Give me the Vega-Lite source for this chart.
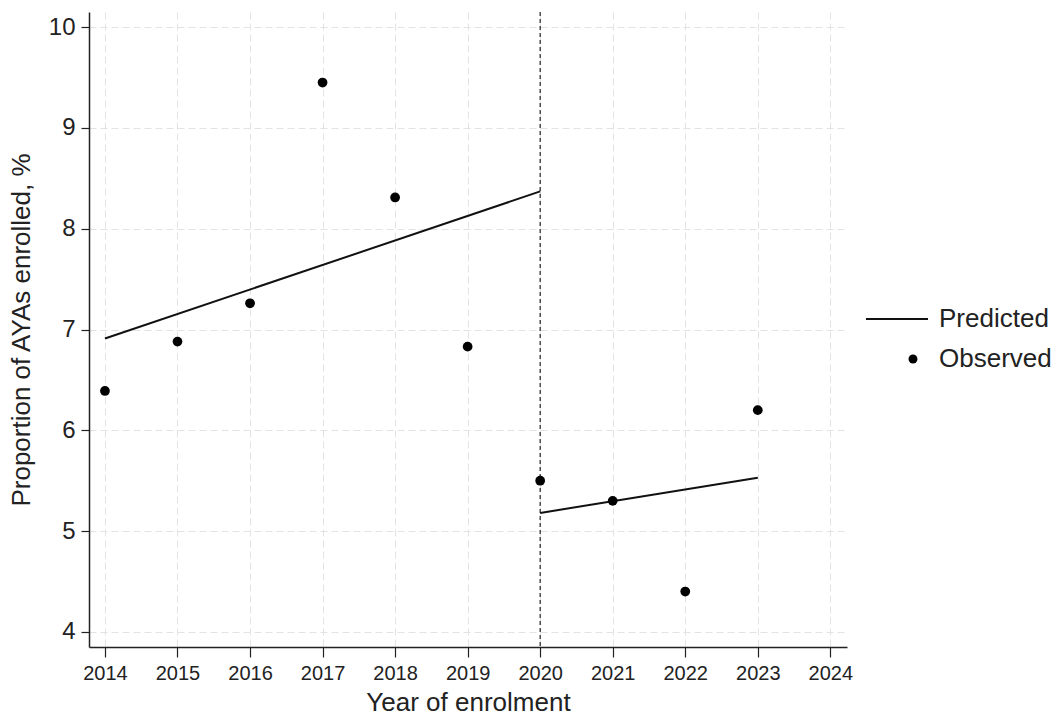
{
  "$schema": "https://vega.github.io/schema/vega-lite/v6.json",
  "width": 758,
  "height": 635,
  "autosize": {"type": "none"},
  "padding": {"left": 89, "top": 12, "right": 213, "bottom": 72},
  "background": "white",
  "config": {
    "font": "Liberation Sans",
    "view": {"stroke": null},
    "axis": {
      "domainColor": "#222222",
      "domainWidth": 1.5,
      "tickColor": "#222222",
      "tickWidth": 1.2,
      "labelColor": "#222222",
      "titleColor": "#222222",
      "titleFontWeight": "normal",
      "gridColor": "#e3e3e3",
      "gridDash": [7, 4],
      "gridWidth": 1
    },
    "legend": {
      "labelFont": "Liberation Sans",
      "labelColor": "#222222",
      "labelFontSize": 26
    }
  },
  "datasets": {
    "observed": [
      {"year": 2014, "value": 6.39, "series": "Observed"},
      {"year": 2015, "value": 6.88, "series": "Observed"},
      {"year": 2016, "value": 7.26, "series": "Observed"},
      {"year": 2017, "value": 9.45, "series": "Observed"},
      {"year": 2018, "value": 8.31, "series": "Observed"},
      {"year": 2019, "value": 6.83, "series": "Observed"},
      {"year": 2020, "value": 5.50, "series": "Observed"},
      {"year": 2021, "value": 5.30, "series": "Observed"},
      {"year": 2022, "value": 4.40, "series": "Observed"},
      {"year": 2023, "value": 6.20, "series": "Observed"}
    ],
    "predicted": [
      {"year": 2014, "value": 6.91, "segment": "pre", "series": "Predicted"},
      {"year": 2020, "value": 8.37, "segment": "pre", "series": "Predicted"},
      {"year": 2020, "value": 5.18, "segment": "post", "series": "Predicted"},
      {"year": 2023, "value": 5.53, "segment": "post", "series": "Predicted"}
    ],
    "cut": [{"year": 2020}]
  },
  "layer": [
    {
      "data": {"name": "cut"},
      "mark": {"type": "rule", "color": "#222222", "strokeDash": [4, 3], "strokeWidth": 1.2},
      "encoding": {
        "x": {
          "field": "year",
          "type": "quantitative",
          "scale": {"domain": [2013.78, 2024.23], "nice": false, "zero": false},
          "axis": {
            "title": "Year of enrolment",
            "values": [2014, 2015, 2016, 2017, 2018, 2019, 2020, 2021, 2022, 2023, 2024],
            "format": "d",
            "labelFontSize": 20,
            "titleFontSize": 26,
            "tickSize": 10,
            "labelPadding": 6,
            "titlePadding": 6,
            "grid": true
          }
        }
      }
    },
    {
      "data": {"name": "predicted"},
      "mark": {"type": "line", "strokeWidth": 2},
      "encoding": {
        "x": {"field": "year", "type": "quantitative"},
        "y": {
          "field": "value",
          "type": "quantitative",
          "scale": {"domain": [3.85, 10.15], "nice": false, "zero": false},
          "axis": {
            "title": "Proportion of AYAs enrolled, %",
            "values": [4, 5, 6, 7, 8, 9, 10],
            "format": "d",
            "labelFontSize": 24,
            "titleFontSize": 26,
            "tickSize": 8,
            "labelPadding": 6,
            "titlePadding": 14,
            "grid": true
          }
        },
        "detail": {"field": "segment"},
        "color": {
          "field": "series",
          "type": "nominal",
          "scale": {"domain": ["Predicted"], "range": ["#111111"]},
          "legend": {
            "title": null,
            "orient": "none",
            "legendX": 776,
            "legendY": 275,
            "symbolType": "stroke",
            "symbolSize": 3844,
            "symbolStrokeWidth": 2,
            "labelOffset": 10
          }
        }
      }
    },
    {
      "data": {"name": "observed"},
      "mark": {"type": "point", "filled": true, "size": 95, "color": "#000000", "opacity": 1},
      "encoding": {
        "x": {"field": "year", "type": "quantitative"},
        "y": {"field": "value", "type": "quantitative"},
        "shape": {
          "field": "series",
          "type": "nominal",
          "scale": {"domain": ["Observed"], "range": ["circle"]},
          "legend": {
            "title": null,
            "orient": "none",
            "legendX": 811,
            "legendY": 334,
            "symbolSize": 80,
            "symbolFillColor": "#000000",
            "symbolStrokeColor": "#000000",
            "symbolOpacity": 1,
            "labelOffset": 13
          }
        }
      }
    }
  ]
}
